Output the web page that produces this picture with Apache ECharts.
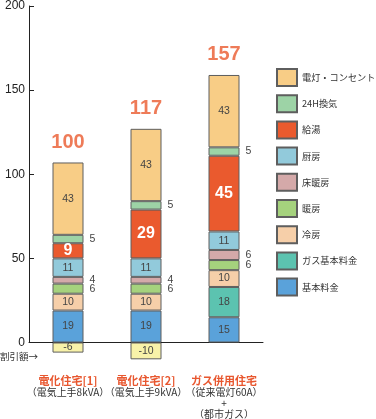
<!DOCTYPE html>
<html>
<head>
<meta charset="utf-8">
<script src="https://cdn.jsdelivr.net/npm/echarts@6/dist/echarts.min.js"></script>
<style>
  html, body { margin: 0; padding: 0; background: #fff; }
  #main { width: 376px; height: 419px; }
</style>
</head>
<body>
<div id="main"></div>
<script>
// 住宅タイプ
var categories = ['電化住宅[1]', '電化住宅[2]', 'ガス併用住宅'];
var subLabels = [['（電気上手8kVA）'], ['（電気上手9kVA）'], ['（従来電灯60A）', '+', '（都市ガス）']];

// 内訳（下から積み上げ）
var kihon     = [19, 19, 15];     // 基本料金
var gasKihon  = [null, null, 18]; // ガス基本料金
var reibo     = [10, 10, 10];     // 冷房
var danbo     = [6, 6, 6];        // 暖房
var yukaDanbo = [4, 4, 6];        // 床暖房
var chubo     = [11, 11, 11];     // 厨房
var kyuto     = [9, 29, 45];      // 給湯
var kanki     = [5, 5, 5];        // 24H換気
var dento     = [43, 43, 43];     // 電灯・コンセント
var waribiki  = [-6, -10, null];  // 割引額
var totals    = [100, 117, 157];

var yTicks = [0, 50, 100, 150, 200];

var chart = echarts.init(document.getElementById('main'));

var border = { borderColor: '#5e5e5e', borderWidth: 1 };

function segData(arr, big) {
    return arr.map(function (v) {
        if (v === null) return '-';
        var lab;
        if (big) {
            lab = { show: true, position: 'inside', color: '#fff', fontSize: 16, fontWeight: 'bold' };
        } else if (v > 0 && v <= 6) {
            lab = { show: true, position: 'right', distance: 6, color: '#444', fontSize: 10.5 };
        } else {
            lab = { show: true, position: 'inside', color: '#444', fontSize: 10.5 };
        }
        return { value: v, label: lab };
    });
}

function barSeries(name, arr, color, big) {
    return {
        name: name,
        type: 'bar',
        stack: 'total',
        barWidth: 31,
        clip: false,
        itemStyle: Object.assign({ color: color }, border),
        label: { show: true, fontFamily: 'Liberation Sans' },
        data: segData(arr, big)
    };
}

var stackTop = categories.map(function (c, i) {
    return kihon[i] + (gasKihon[i] || 0) + reibo[i] + danbo[i] + yukaDanbo[i] +
        chubo[i] + kyuto[i] + kanki[i] + dento[i];
});

var option = {
    animation: false,
    textStyle: { fontFamily: '"Noto Sans CJK JP", "DejaVu Sans", sans-serif' },
    grid: { left: 29, right: 113, top: 6, bottom: 74 },
    legend: {
        orient: 'vertical',
        left: 276,
        top: 68,
        padding: 0,
        icon: 'rect',
        itemWidth: 20,
        itemHeight: 17,
        itemGap: 7.2,
        selectedMode: false,
        textStyle: { fontSize: 9.2, color: '#333' },
        data: ['電灯・コンセント', '24H換気', '給湯', '厨房', '床暖房', '暖房', '冷房', 'ガス基本料金', '基本料金']
    },
    xAxis: {
        type: 'category',
        data: categories,
        axisLine: { lineStyle: { color: '#222', width: 1 } },
        axisTick: { inside: true, length: 8, lineStyle: { color: '#222' } },
        axisLabel: {
            interval: 0,
            margin: 32,
            formatter: function (val, idx) {
                var s = '{a|' + val + '}';
                subLabels[idx].forEach(function (t) { s += '\n{b|' + t + '}'; });
                return s;
            },
            rich: {
                a: { color: '#e8572f', fontWeight: 'bold', fontSize: 11, lineHeight: 12 },
                b: { color: '#333', fontSize: 10, lineHeight: 11 }
            }
        }
    },
    yAxis: {
        type: 'value',
        min: 0,
        max: 200,
        interval: 50,
        splitLine: { show: false },
        axisLine: { show: true, lineStyle: { color: '#222', width: 1 } },
        axisTick: { show: true, inside: true, length: 5, lineStyle: { color: '#222' } },
        axisLabel: {
            margin: 4,
            fontSize: 12,
            color: '#222',
            fontFamily: 'Liberation Sans',
            formatter: function (v) { return yTicks.indexOf(v) >= 0 ? String(v) : ''; }
        }
    },
    graphic: [{
        type: 'text',
        left: 0,
        top: 352,
        style: { text: '割引額→', fill: '#333', font: '9.5px "Noto Sans CJK JP"' }
    }],
    series: [
        barSeries('基本料金', kihon, '#5aa2da'),
        barSeries('ガス基本料金', gasKihon, '#5cc3b0'),
        barSeries('冷房', reibo, '#f6cfa9'),
        barSeries('暖房', danbo, '#a5d27d'),
        barSeries('床暖房', yukaDanbo, '#d4a9a9'),
        barSeries('厨房', chubo, '#92cadb'),
        barSeries('給湯', kyuto, '#ea5a2e', true),
        barSeries('24H換気', kanki, '#9dd3a6'),
        barSeries('電灯・コンセント', dento, '#f8cd86'),
        barSeries('割引額', waribiki, '#f8f2a9'),
        {
            name: '合計',
            type: 'scatter',
            symbolSize: 0,
            data: stackTop,
            label: {
                show: true,
                position: 'top',
                distance: 10,
                color: '#ea5a2e',
                fontSize: 20,
                fontWeight: 'bold',
                fontFamily: 'Liberation Sans',
                formatter: function (p) { return totals[p.dataIndex]; }
            }
        }
    ]
};

chart.setOption(option);
</script>
</body>
</html>
